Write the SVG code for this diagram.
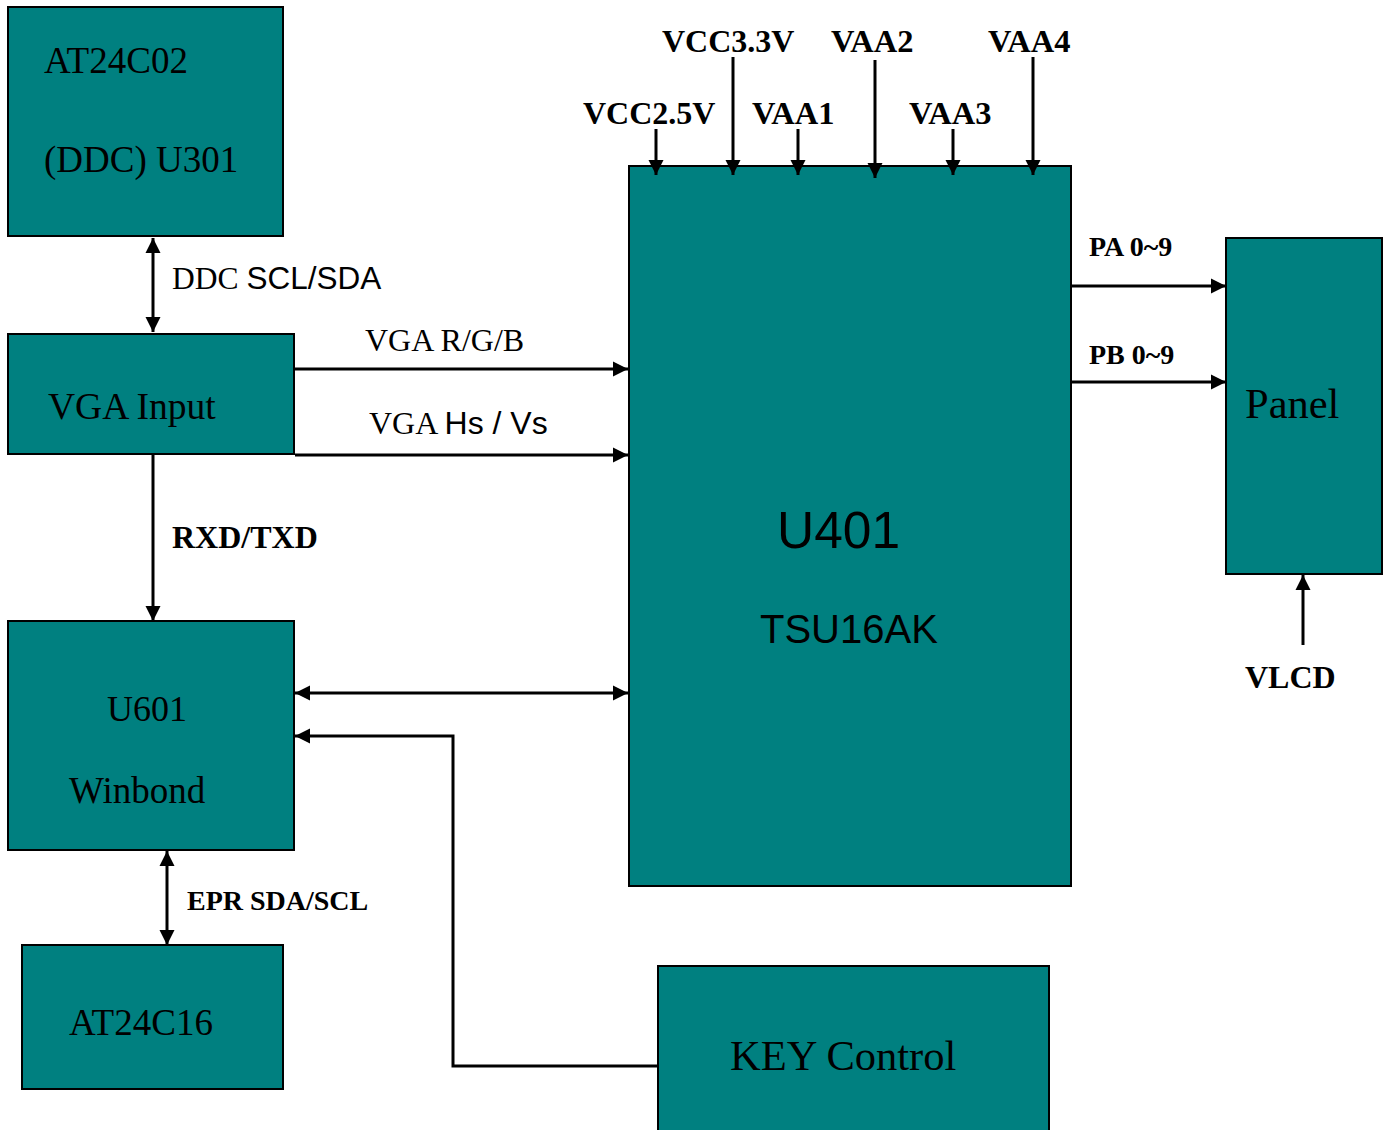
<svg xmlns="http://www.w3.org/2000/svg" width="1389" height="1130" viewBox="0 0 1389 1130">
<defs>
<style>
.box{fill:#008080;stroke:#000;stroke-width:2}
.ln{stroke:#000;stroke-width:3;fill:none}
.t{font-family:"Liberation Serif",serif;fill:#000}
.a{font-family:"Liberation Sans",sans-serif;fill:#000}
.b{font-family:"Liberation Serif",serif;font-weight:bold;fill:#000}
</style>
<marker id="ah" viewBox="0 0 10 10" refX="10" refY="5" markerWidth="5" markerHeight="5.4" orient="auto-start-reverse" markerUnits="strokeWidth">
<path d="M0,0 L10,5 L0,10 z" fill="#000"/>
</marker>
</defs>
<rect width="1389" height="1130" fill="#fff"/>
<g id="u301">
<rect class="box" x="8" y="7" width="275" height="229"/>
<text class="t" x="44" y="73" font-size="37">AT24C02</text>
<text class="t" x="44" y="172" font-size="37">(DDC) U301</text>
</g>
<g id="vga">
<rect class="box" x="8" y="334" width="286" height="120"/>
<text class="t" x="48" y="419" font-size="37.5">VGA Input</text>
</g>
<g id="u601">
<rect class="box" x="8" y="621" width="286" height="229"/>
<text class="t" x="107" y="721" font-size="36">U601</text>
<text class="t" x="69" y="803" font-size="37">Winbond</text>
</g>
<g id="at24c16">
<rect class="box" x="22" y="945" width="261" height="144"/>
<text class="t" x="69" y="1035" font-size="37">AT24C16</text>
</g>
<g id="u401">
<rect class="box" x="629" y="166" width="442" height="720"/>
<text class="a" x="777" y="548" font-size="51.5">U401</text>
<text class="a" x="760" y="643" font-size="40">TSU16AK</text>
</g>
<g id="panel">
<rect class="box" x="1226" y="238" width="156" height="336"/>
<text class="t" x="1245" y="418" font-size="42.5">Panel</text>
</g>
<g id="key">
<rect class="box" x="658" y="966" width="391" height="170"/>
<text class="t" x="730" y="1070" font-size="42.5">KEY Control</text>
</g>
<g id="connectors">
<line class="ln" x1="153" y1="238" x2="153" y2="332" marker-start="url(#ah)" marker-end="url(#ah)"/>
<line class="ln" x1="295" y1="369" x2="628" y2="369" marker-end="url(#ah)"/>
<line class="ln" x1="295" y1="455" x2="628" y2="455" marker-end="url(#ah)"/>
<line class="ln" x1="153" y1="455" x2="153" y2="621" marker-end="url(#ah)"/>
<line class="ln" x1="295" y1="693" x2="628" y2="693" marker-start="url(#ah)" marker-end="url(#ah)"/>
<polyline class="ln" points="658,1066 453,1066 453,736 295,736" marker-end="url(#ah)"/>
<line class="ln" x1="167" y1="851" x2="167" y2="945" marker-start="url(#ah)" marker-end="url(#ah)"/>
<line class="ln" x1="1071" y1="286" x2="1226" y2="286" marker-end="url(#ah)"/>
<line class="ln" x1="1071" y1="382" x2="1226" y2="382" marker-end="url(#ah)"/>
<line class="ln" x1="1303" y1="645" x2="1303" y2="575" marker-end="url(#ah)"/>
<line class="ln" x1="656" y1="129" x2="656" y2="175" marker-end="url(#ah)"/>
<line class="ln" x1="733" y1="57" x2="733" y2="175" marker-end="url(#ah)"/>
<line class="ln" x1="798" y1="129" x2="798" y2="175" marker-end="url(#ah)"/>
<line class="ln" x1="875" y1="60" x2="875" y2="178" marker-end="url(#ah)"/>
<line class="ln" x1="953" y1="129" x2="953" y2="175" marker-end="url(#ah)"/>
<line class="ln" x1="1033" y1="57" x2="1033" y2="175" marker-end="url(#ah)"/>
</g>
<g id="labels">
<text x="172" y="289" font-size="31.5"><tspan class="t">DDC </tspan><tspan class="a">SCL/SDA</tspan></text>
<text class="t" x="365" y="351" font-size="32">VGA R/G/B</text>
<text x="369" y="434" font-size="32"><tspan class="t">VGA </tspan><tspan class="a">Hs / Vs</tspan></text>
<text class="b" x="172" y="548" font-size="32">RXD/TXD</text>
<text class="b" x="187" y="910" font-size="28">EPR SDA/SCL</text>
<text class="b" x="1089" y="256" font-size="28">PA 0~9</text>
<text class="b" x="1089" y="364" font-size="28">PB 0~9</text>
<text class="b" x="1245" y="688" font-size="32">VLCD</text>
<text class="b" x="662" y="52" font-size="32">VCC3.3V</text>
<text class="b" x="831" y="52" font-size="32.5">VAA2</text>
<text class="b" x="988" y="52" font-size="32.5">VAA4</text>
<text class="b" x="583" y="124" font-size="32">VCC2.5V</text>
<text class="b" x="752" y="124" font-size="32.5">VAA1</text>
<text class="b" x="909" y="124" font-size="32.5">VAA3</text>
</g>
</svg>
